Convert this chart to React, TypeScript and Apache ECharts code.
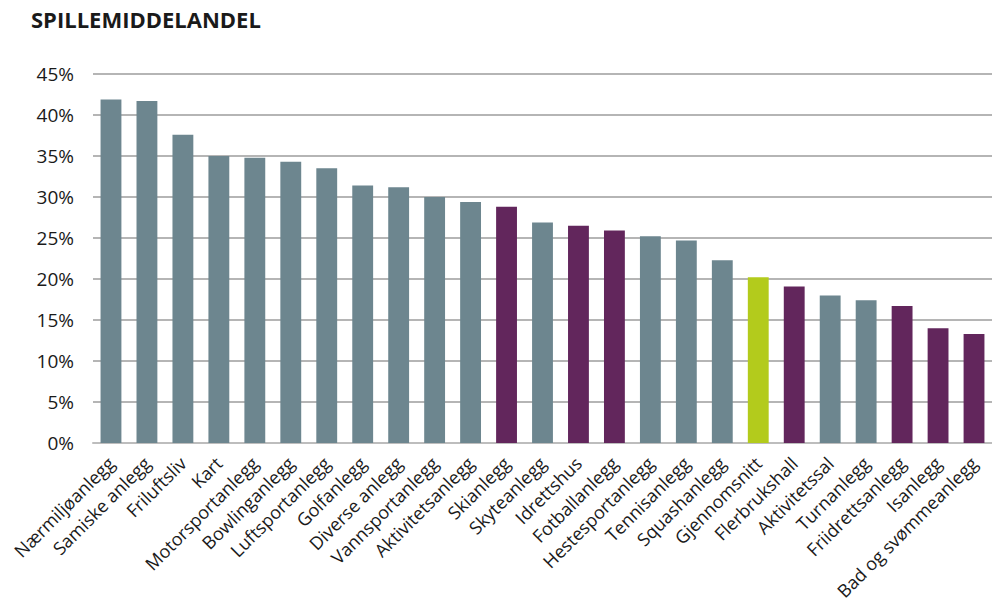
import React, { useEffect, useRef } from "react";
import * as echarts from "echarts";

const title = "SPILLEMIDDELANDEL";

const categories = [
  "Nærmiljøanlegg",
  "Samiske anlegg",
  "Friluftsliv",
  "Kart",
  "Motorsportanlegg",
  "Bowlinganlegg",
  "Luftsportanlegg",
  "Golfanlegg",
  "Diverse anlegg",
  "Vannsportanlegg",
  "Aktivitetsanlegg",
  "Skianlegg",
  "Skyteanlegg",
  "Idrettshus",
  "Fotballanlegg",
  "Hestesportanlegg",
  "Tennisanlegg",
  "Squashanlegg",
  "Gjennomsnitt",
  "Flerbrukshall",
  "Aktivitetssal",
  "Turnanlegg",
  "Friidrettsanlegg",
  "Isanlegg",
  "Bad og svømmeanlegg",
];

// share in percent
const values = [
  41.9, 41.7, 37.6, 35.0, 34.8, 34.3, 33.5, 31.4, 31.2, 30.0, 29.4, 28.8, 26.9,
  26.5, 25.9, 25.2, 24.7, 22.3, 20.2, 19.1, 18.0, 17.4, 16.7, 14.0, 13.3,
];

// group of each category: "other", "main" (highlighted), "avg" (average)
const groups = [
  "other", "other", "other", "other", "other", "other", "other", "other",
  "other", "other", "other", "main", "other", "main", "main", "other",
  "other", "other", "avg", "main", "other", "other", "main", "main", "main",
];

const yTicks = [0, 5, 10, 15, 20, 25, 30, 35, 40, 45];

const groupColors: Record<string, string> = {
  other: "#6d868f",
  main: "#62265c",
  avg: "#b3cb1c",
};

export default function App() {
  const ref = useRef<HTMLDivElement>(null);

  useEffect(() => {
    if (!ref.current) return;
    const chart = echarts.init(ref.current, undefined, { renderer: "svg" });
    const font = "'Open Sans', 'Noto Sans', sans-serif";
    chart.setOption({
      animation: false,
      textStyle: { fontFamily: font },
      title: {
        text: title,
        left: 26,
        top: 3,
        textStyle: {
          fontFamily: font,
          fontSize: 22,
          fontWeight: "bold",
          color: "#1a1a1a",
        },
      },
      grid: { left: 93, right: 0, top: 74, bottom: 167, containLabel: false },
      xAxis: {
        type: "category",
        data: categories,
        axisTick: { show: false },
        axisLine: { show: true, lineStyle: { color: "#bdbdbd", width: 2 } },
        axisLabel: {
          interval: 0,
          rotate: 45,
          margin: 17,
          fontSize: 18,
          color: "#1a1a1a",
          fontFamily: font,
        },
      },
      yAxis: {
        type: "value",
        min: yTicks[0],
        max: yTicks[yTicks.length - 1],
        interval: 5,
        axisLine: { show: false },
        axisTick: { show: false },
        axisLabel: {
          formatter: (v: number) => `${v}%`,
          fontSize: 19,
          margin: 19,
          color: "#1a1a1a",
          fontFamily: font,
        },
        splitLine: { lineStyle: { color: "#9c9c9c", width: 1.5 } },
      },
      series: [
        {
          type: "bar",
          barCategoryGap: "42%",
          data: values.map((v, i) => ({
            value: v,
            itemStyle: { color: groupColors[groups[i]] },
          })),
        },
      ],
    });
    return () => chart.dispose();
  }, []);

  return (
    <div
      ref={ref}
      style={{ position: "fixed", left: 0, top: 0, width: 992, height: 610, background: "#fff" }}
    />
  );
}
